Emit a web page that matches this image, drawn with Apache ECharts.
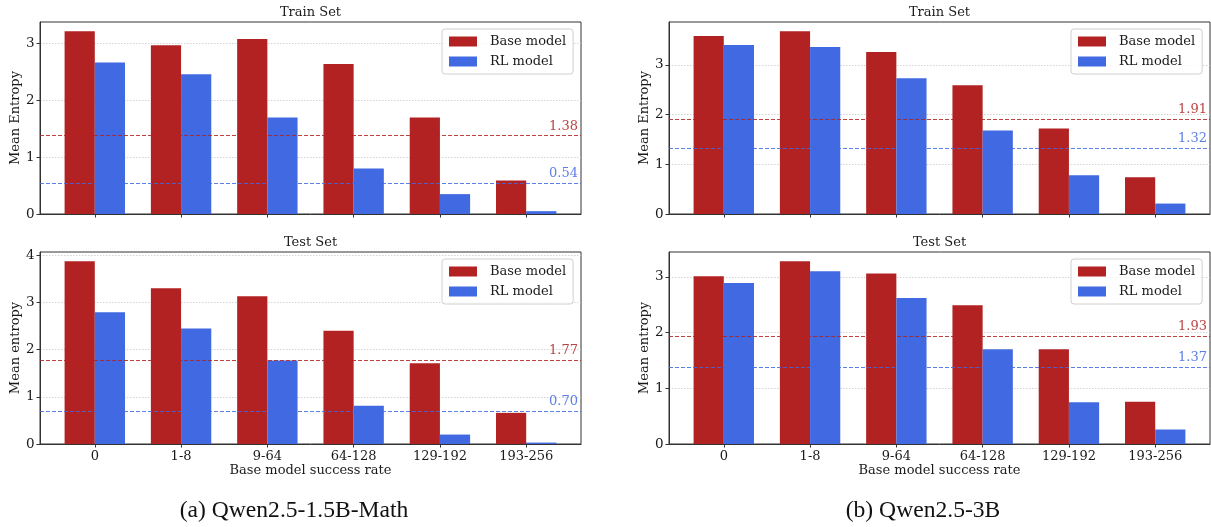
<!DOCTYPE html>
<html>
<head>
<meta charset="utf-8">
<script src="https://cdn.jsdelivr.net/npm/echarts@6/dist/echarts.min.js"></script>
<style>html,body{margin:0;padding:0;background:#fff}#c{width:1211px;height:527px}</style>
</head>
<body>
<div id="c"></div>
<script>
const categories = ['0', '1-8', '9-64', '64-128', '129-192', '193-256'];
const seriesNames = ['Base model', 'RL model'];

const mathTrainBase = [3.22, 2.97, 3.08, 2.64, 1.70, 0.59];
const mathTrainRL   = [2.67, 2.46, 1.70, 0.80, 0.35, 0.05];
const mathTestBase  = [3.875, 3.30, 3.13, 2.40, 1.71, 0.66];
const mathTestRL    = [2.79, 2.45, 1.77, 0.81, 0.20, 0.03];
const q3TrainBase   = [3.58, 3.68, 3.26, 2.59, 1.72, 0.74];
const q3TrainRL     = [3.40, 3.36, 2.73, 1.68, 0.78, 0.21];
const q3TestBase    = [3.01, 3.28, 3.06, 2.49, 1.70, 0.76];
const q3TestRL      = [2.89, 3.10, 2.62, 1.70, 0.75, 0.26];

const mathTrainMeans = [1.38, 0.54];
const mathTestMeans  = [1.77, 0.70];
const q3TrainMeans   = [1.91, 1.32];
const q3TestMeans    = [1.93, 1.37];

const mathTrainTicks = [0, 1, 2, 3];
const mathTestTicks  = [0, 1, 2, 3, 4];
const q3TrainTicks   = [0, 1, 2, 3];
const q3TestTicks    = [0, 1, 2, 3];

const captions = ['(a) Qwen2.5-1.5B-Math', '(b) Qwen2.5-3B'];

const RED = '#B22222', BLUE = '#4169E1';
const FONT = 'DejaVu Serif';
const TXT = '#1a1a1a';

const option = {
  animation: false,
  backgroundColor: '#fff',
  grid: [], xAxis: [], yAxis: [], series: [], legend: [], graphic: []
};

function addPanel(left, top, base, rl, means, yTicks, yName, showXLabels, title) {
  const i = option.grid.length;
  const W = 541, H = 192;
  option.grid.push({left, top, width: W, height: H, show: true, borderColor: '#333', borderWidth: 1,
    containLabel: false, outerBoundsMode: 'none'});
  const catIdx = categories.map((c, k) => k);
  option.xAxis.push({
    type: 'value', gridIndex: i, min: -0.635, max: 5.635,
    axisLine: {show: true, onZero: false, lineStyle: {color: '#333', width: 1}},
    axisTick: {show: true, length: 3.5, lineStyle: {color: '#333'}, customValues: catIdx},
    axisLabel: {show: showXLabels, customValues: catIdx, margin: 6,
      formatter: v => categories[Math.round(v)] ?? '',
      fontFamily: FONT, fontSize: 13, color: TXT},
    splitLine: {show: false},
    name: showXLabels ? 'Base model success rate' : '',
    nameLocation: 'middle', nameGap: 18,
    nameTextStyle: {fontFamily: FONT, fontSize: 13, color: TXT}
  });
  const maxV = Math.max(...base, ...rl) * 1.05;
  option.yAxis.push({
    type: 'value', gridIndex: i, min: 0, max: maxV, interval: 1,
    axisLine: {show: true, onZero: false, lineStyle: {color: '#333', width: 1}},
    axisTick: {show: true, length: 3.5, lineStyle: {color: '#333'}, customValues: yTicks},
    axisLabel: {customValues: yTicks, margin: 5.5, fontFamily: FONT, fontSize: 13.5, color: TXT},
    splitLine: {show: true, lineStyle: {color: '#c8c8c8', type: [1.5, 1.5], width: 0.8}},
    name: yName, nameLocation: 'middle', nameGap: 17,
    nameTextStyle: {fontFamily: FONT, fontSize: 13, color: TXT}
  });
  const mk = (val, col) => ({
    silent: true, symbol: 'none',
    lineStyle: {color: col, type: [4, 2], width: 1, opacity: 0.85},
    label: {show: true, position: 'insideEndTop', distance: 3, formatter: val.toFixed(2),
      color: col, opacity: 0.85, fontFamily: FONT, fontSize: 13},
    data: [{yAxis: val}]
  });
  option.series.push({
    type: 'bar', name: seriesNames[0], xAxisIndex: i, yAxisIndex: i,
    data: base.map((v, k) => [k, v]), barWidth: '35%', barGap: '0%',
    itemStyle: {color: RED}, markLine: mk(means[0], RED)
  });
  option.series.push({
    type: 'bar', name: seriesNames[1], xAxisIndex: i, yAxisIndex: i,
    data: rl.map((v, k) => [k, v]), barWidth: '35%', barGap: '0%',
    itemStyle: {color: BLUE}, markLine: mk(means[1], BLUE)
  });
  option.legend.push({
    data: seriesNames, orient: 'vertical', left: left + W - 8 - 131, top: top + 7,
    width: 131, icon: 'rect', itemWidth: 28, itemHeight: 10, itemGap: 6,
    padding: [5.5, 7, 5.5, 7], borderColor: '#d0d0d0', borderWidth: 1, borderRadius: 3,
    backgroundColor: 'rgba(255,255,255,0.8)', selectedMode: false,
    textStyle: {fontFamily: FONT, fontSize: 13, color: TXT, lineHeight: 14, padding: [0, 0, 0, 8]}
  });
  option.graphic.push({type: 'text', x: left + W / 2, y: top - 9,
    style: {text: title, textAlign: 'center', textVerticalAlign: 'middle',
      fontFamily: FONT, fontSize: 13, fill: TXT}});
}

addPanel(40, 22, mathTrainBase, mathTrainRL, mathTrainMeans, mathTrainTicks, 'Mean Entropy', false, 'Train Set');
addPanel(40, 252, mathTestBase, mathTestRL, mathTestMeans, mathTestTicks, 'Mean entropy', true, 'Test Set');
addPanel(669, 22, q3TrainBase, q3TrainRL, q3TrainMeans, q3TrainTicks, 'Mean Entropy', false, 'Train Set');
addPanel(669, 252, q3TestBase, q3TestRL, q3TestMeans, q3TestTicks, 'Mean entropy', true, 'Test Set');

option.graphic.push({type: 'text', x: 294, y: 511,
  style: {text: captions[0], textAlign: 'center', textVerticalAlign: 'middle',
    fontFamily: 'Liberation Serif', fontSize: 23.6, fill: '#111'}});
option.graphic.push({type: 'text', x: 923, y: 511,
  style: {text: captions[1], textAlign: 'center', textVerticalAlign: 'middle',
    fontFamily: 'Liberation Serif', fontSize: 23.6, fill: '#111'}});

const chart = echarts.init(document.getElementById('c'), null, {renderer: 'canvas'});
chart.setOption(option);
</script>
</body>
</html>
